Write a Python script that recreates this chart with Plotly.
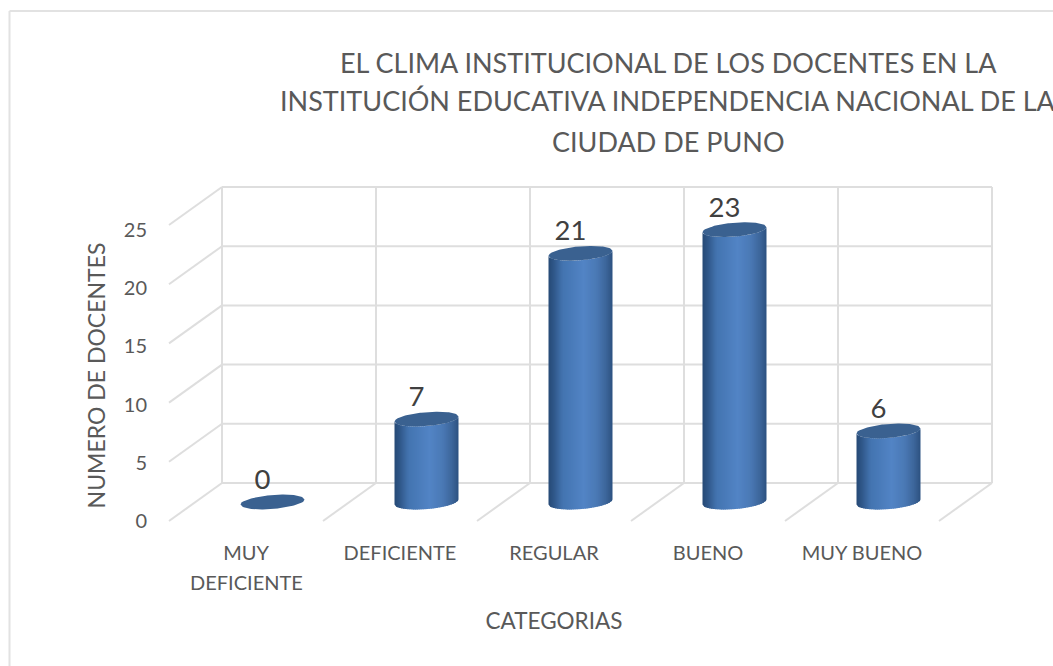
import math
import plotly.graph_objects as go

CATEGORIAS = ['MUY', 'DEFICIENTE', 'REGULAR', 'BUENO', 'MUY BUENO']
CATEGORIA_1_LINEA_2 = 'DEFICIENTE'
DOCENTES = [0, 7, 21, 23, 6]
TICKS_Y = [0, 5, 10, 15, 20, 25]

TITULO = ['EL CLIMA INSTITUCIONAL DE LOS DOCENTES EN LA',
          'INSTITUCIÓN EDUCATIVA INDEPENDENCIA NACIONAL DE LA',
          'CIUDAD DE PUNO']

W, H = 1053, 666

# back wall of the fake 3D box, in pixels
WALL_LEFT, WALL_TOP, WALL_BOTTOM = 222, 187, 483
CAT_PX = 154
VAL_PX = (WALL_BOTTOM - WALL_TOP) / 25
DEPTH_X, DEPTH_Y = 53, 38

# cylinder look
RADIO, RY, SHEAR = 32, 7, 2.5
N_STRIPS = 32
STOPS = [(0.0, '#264a75'), (0.08, '#2f5687'), (0.22, '#4374b0'), (0.55, '#5284c5'),
         (0.75, '#4a79b5'), (0.9, '#3c669a'), (1.0, '#2c5180')]
CAP = '#3a6190'
GRID = '#dedede'
TEXTO = '#595959'


def shade(t):
    for (a, ca), (b, cb) in zip(STOPS, STOPS[1:]):
        if t <= b:
            k = (t - a) / (b - a)
            rgb = [round(int(ca[i:i+2], 16) * (1 - k) + int(cb[i:i+2], 16) * k) for i in (1, 3, 5)]
            return '#%02x%02x%02x' % tuple(rgb)
    return STOPS[-1][1]


def ell(dx, side):
    # y offset in pixels of the tilted ellipse at dx (side=1 lower edge, -1 upper edge)
    u = max(-1, min(1, dx / RADIO))
    return -SHEAR * u + side * RY * math.sqrt(1 - u * u)


def pos(cat, val, depth=0.0, dx=0.0, dy=0.0):
    # category/value plus depth and pixel nudges -> drawing axes coordinates
    return (cat + (dx - DEPTH_X * depth) / CAT_PX, val - (dy + DEPTH_Y * depth) / VAL_PX)


def line(fig, a, b):
    fig.add_trace(go.Scatter(x=[a[0], b[0]], y=[a[1], b[1]], mode='lines',
                             line=dict(color=GRID, width=2), hoverinfo='skip', showlegend=False))


def cylinder(fig, i, v):
    if v > 0:
        for k in range(N_STRIPS):
            d0 = -RADIO + 2 * RADIO * k / N_STRIPS
            # each strip runs a bit under the next one so no seams show
            d1 = min(RADIO, -RADIO + 2 * RADIO * (k + 1) / N_STRIPS + 1.5)
            xs = [d0 + (d1 - d0) * j / 4 for j in range(5)]
            pts = ([pos(i, 0, 0.5, d, ell(d, 1)) for d in xs]
                   + [pos(i, v, 0.5, d, ell(d, 1)) for d in xs[::-1]])
            fig.add_trace(go.Scatter(x=[p[0] for p in pts], y=[p[1] for p in pts], mode='lines',
                                     fill='toself', fillcolor=shade((k + 0.5) / N_STRIPS),
                                     line=dict(width=0), hoverinfo='skip', showlegend=False))
    steps = [-RADIO + 2 * RADIO * k / 60 for k in range(61)]
    rim = [pos(i, v, 0.5, d, ell(d, 1)) for d in steps] + [pos(i, v, 0.5, d, ell(d, -1)) for d in steps[::-1]]
    fig.add_trace(go.Scatter(x=[p[0] for p in rim], y=[p[1] for p in rim], mode='lines',
                             fill='toself', fillcolor=CAP, line=dict(width=0),
                             hoverinfo='skip', showlegend=False))


fig = go.Figure()
n = len(CATEGORIAS)

# walls and floor
for t in TICKS_Y:
    line(fig, pos(-0.5, t), pos(n - 0.5, t))
    line(fig, pos(-0.5, t), pos(-0.5, t, 1))
for i in range(n + 1):
    line(fig, pos(i - 0.5, 0), pos(i - 0.5, TICKS_Y[-1]))
    if i > 0:
        line(fig, pos(i - 0.5, 0), pos(i - 0.5, 0, 1))

for i, v in enumerate(DOCENTES):
    cylinder(fig, i, v)

# data labels
lab = [pos(i, v, 0.5, -10, -20) for i, v in enumerate(DOCENTES)]
fig.add_trace(go.Scatter(x=[p[0] for p in lab], y=[p[1] for p in lab], mode='text',
                         text=[str(v) for v in DOCENTES], textposition='middle center',
                         textfont=dict(family='Lato', size=27.5, color='#404040'),
                         hoverinfo='skip', showlegend=False))

# front axes, only there for tick labels and axis titles
fig.add_trace(go.Scatter(x=list(range(n)), y=DOCENTES, xaxis='x2', yaxis='y2', mode='markers',
                         marker=dict(opacity=0), hoverinfo='skip', showlegend=False))

anotaciones = [dict(text=t, x=668 / W, y=1 - py / H, xref='paper', yref='paper',
                    xanchor='center', yanchor='middle', showarrow=False,
                    font=dict(family='Lato', size=27, color=TEXTO))
               for t, py in zip(TITULO, [62, 101, 141])]
anotaciones.append(dict(text=CATEGORIA_1_LINEA_2, x=0, y=1 - 581.5 / H, xref='x2', yref='paper',
                        xanchor='center', yanchor='middle', showarrow=False,
                        font=dict(family='Lato', size=20, color=TEXTO)))

fig.update_layout(
    width=W, height=H,
    margin=dict(l=0, r=0, t=0, b=0, autoexpand=False),
    paper_bgcolor='white', plot_bgcolor='rgba(0,0,0,0)',
    showlegend=False,
    annotations=anotaciones,
    xaxis=dict(domain=[0, 1], visible=False, fixedrange=True, anchor='y',
               range=[-0.5 - WALL_LEFT / CAT_PX, -0.5 + (W - WALL_LEFT) / CAT_PX]),
    yaxis=dict(domain=[0, 1], visible=False, fixedrange=True, anchor='x',
               range=[-(H - WALL_BOTTOM) / VAL_PX, WALL_BOTTOM / VAL_PX]),
    xaxis2=dict(domain=[169 / W, 939 / W], anchor='y2', range=[-0.5, n - 0.5],
                tickmode='array', tickvals=list(range(n)), ticktext=CATEGORIAS,
                showgrid=False, zeroline=False, showline=False, fixedrange=True,
                ticks='outside', ticklen=14, tickcolor='rgba(0,0,0,0)',
                tickfont=dict(family='Lato', size=20, color=TEXTO), tickangle=0,
                title=dict(text='CATEGORIAS', standoff=50,
                           font=dict(family='Lato', size=22.5, color=TEXTO))),
    yaxis2=dict(domain=[(H - 521) / H, (H - 230) / H], anchor='x2', range=[0, TICKS_Y[-1]],
                tickmode='array', tickvals=TICKS_Y,
                showgrid=False, zeroline=False, showline=False, fixedrange=True,
                ticks='outside', ticklen=17, tickcolor='rgba(0,0,0,0)',
                tickfont=dict(family='Lato', size=20, color=TEXTO),
                title=dict(text='NUMERO DE DOCENTES', standoff=11,
                           font=dict(family='Lato', size=23, color=TEXTO))),
    # chart frame
    shapes=[dict(type='line', xref='paper', yref='paper', x0=9.5 / W, x1=1, y0=1 - 11 / H, y1=1 - 11 / H,
                 line=dict(color='#e2e2e2', width=2), layer='below'),
            dict(type='line', xref='paper', yref='paper', x0=9.5 / W, x1=9.5 / W, y0=0, y1=1 - 11 / H,
                 line=dict(color='#e2e2e2', width=2), layer='below')],
)

fig.write_html('out.html', config=dict(displayModeBar=False),
               post_script="document.body.style.margin='0';document.body.style.overflow='hidden';")
